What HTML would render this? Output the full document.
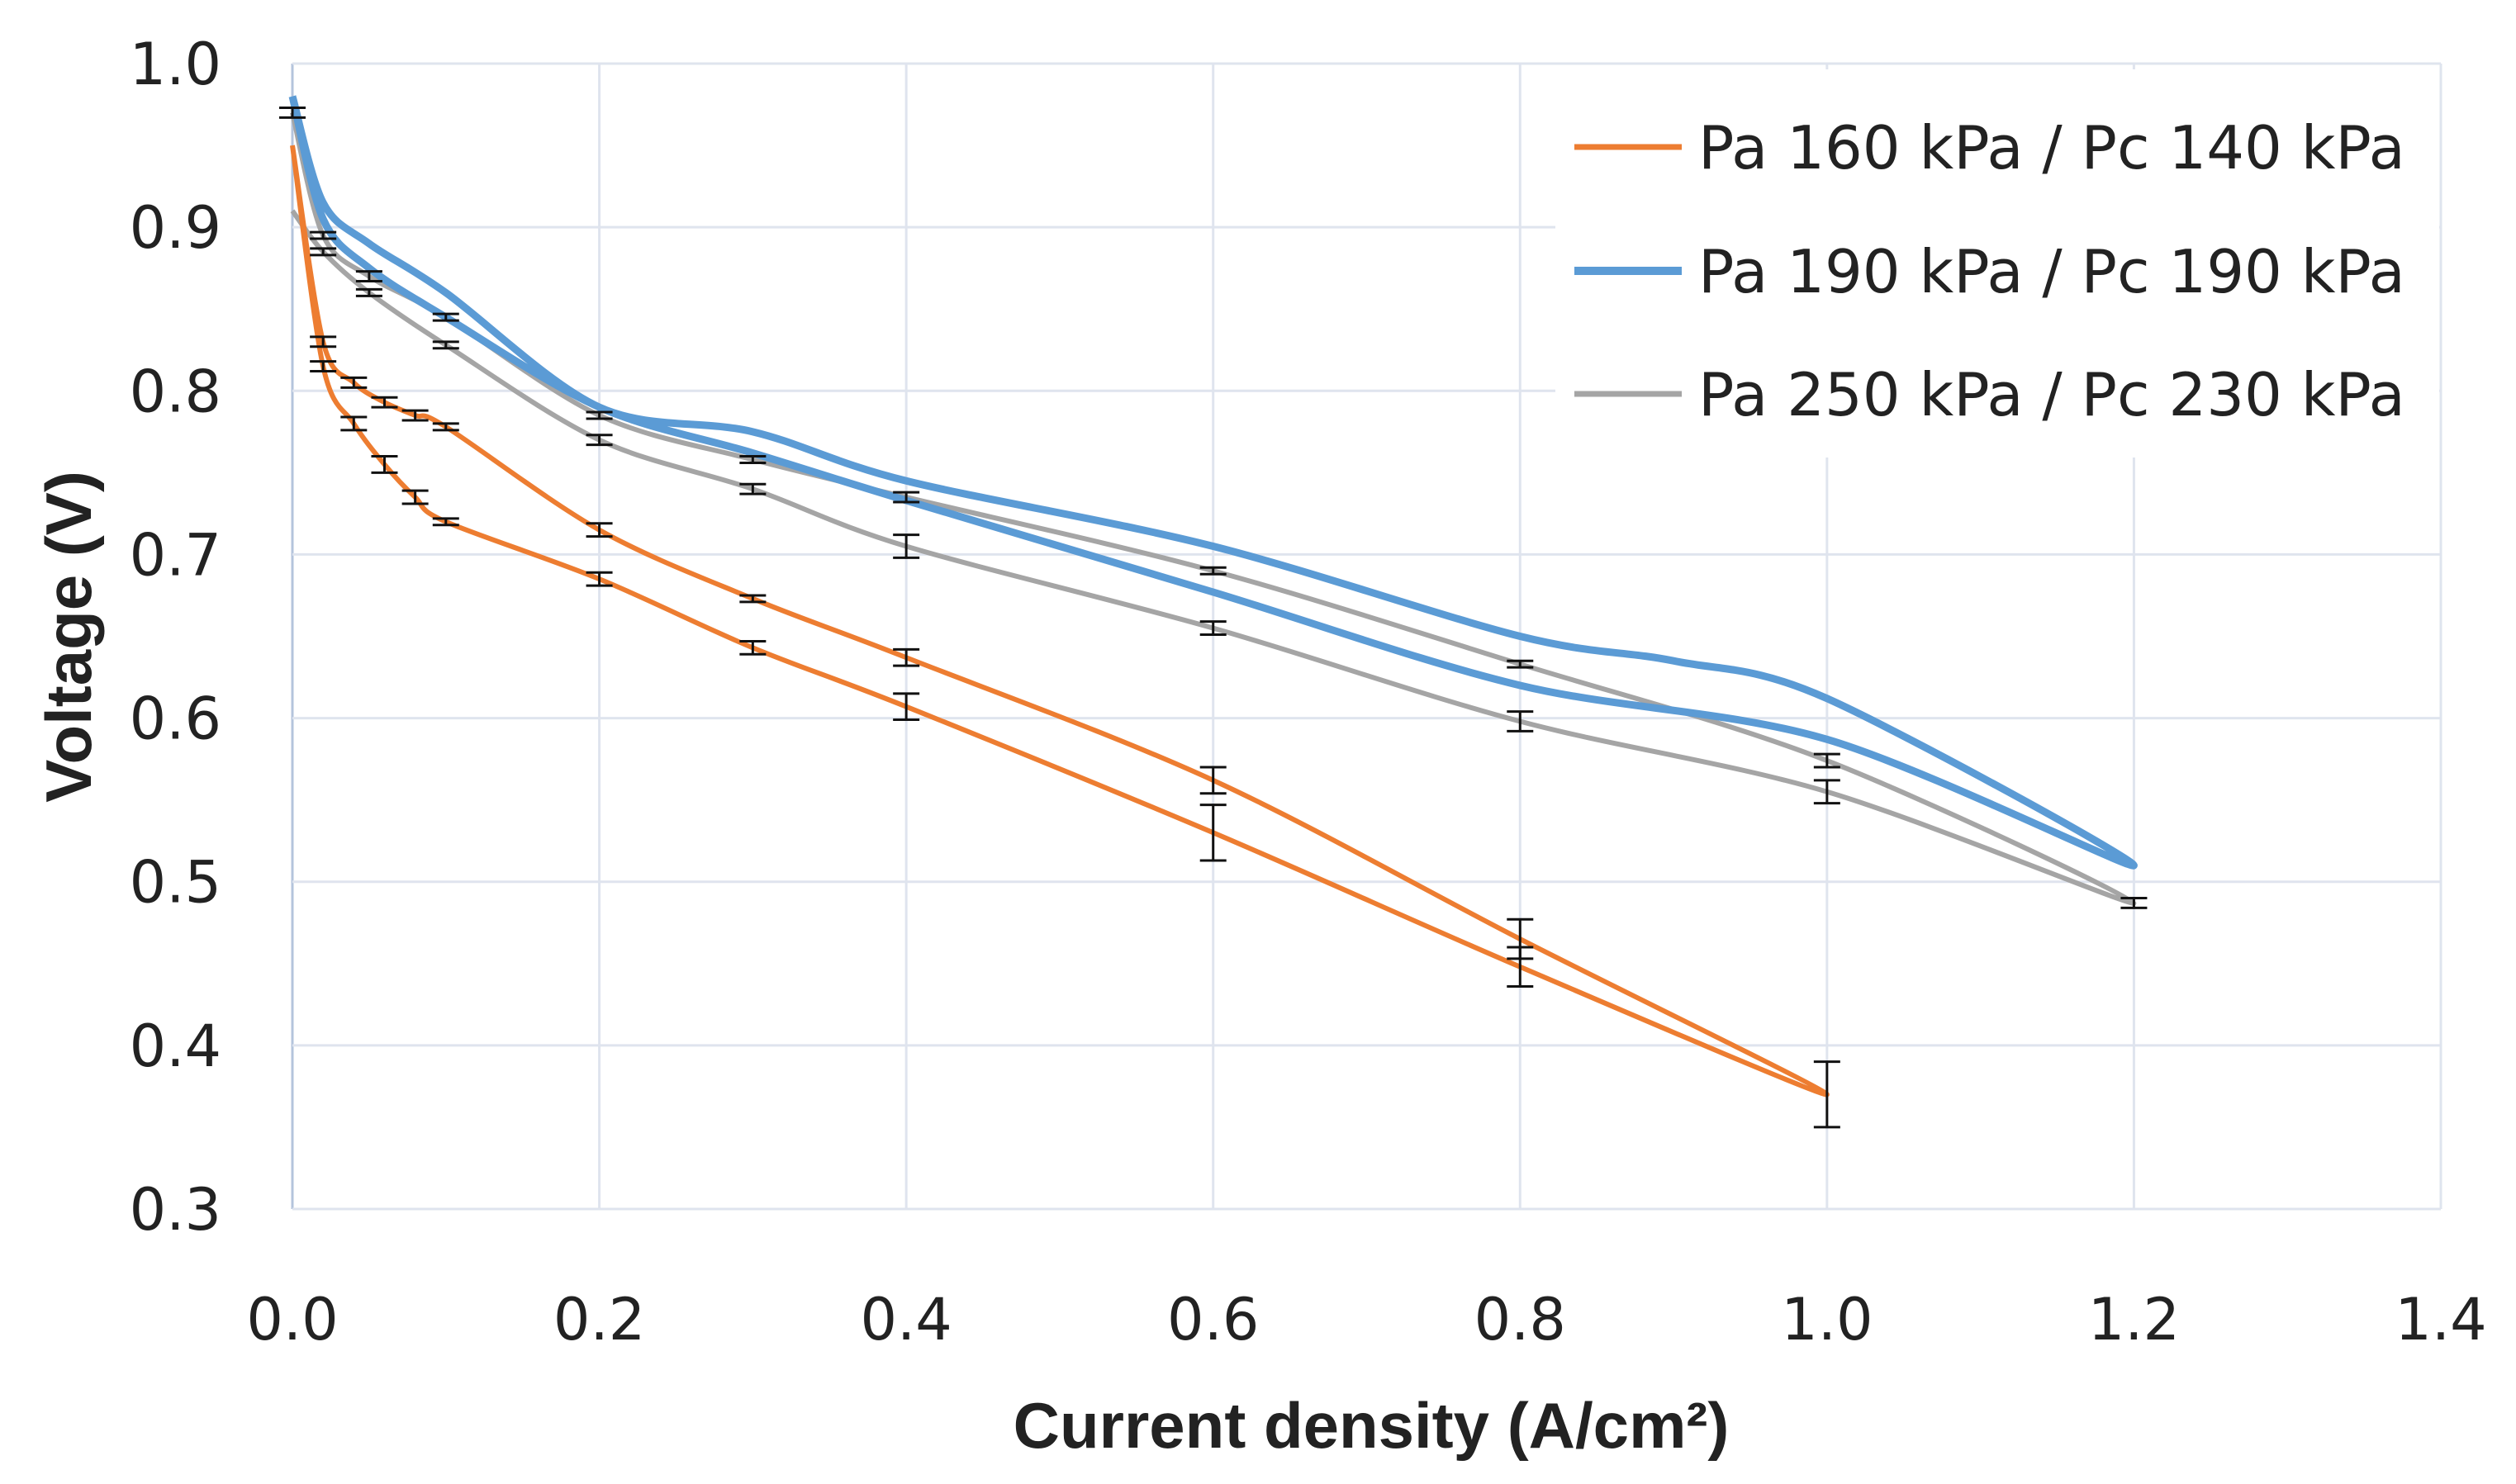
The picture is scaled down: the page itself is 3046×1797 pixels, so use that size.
<!DOCTYPE html>
<html><head><meta charset="utf-8"><style>
body{margin:0;background:#fff;}
svg{display:block;}
text{font-family:"DejaVu Sans","Liberation Sans",sans-serif;}
</style></head><body>
<svg id="chart" width="3046" height="1797" viewBox="0 0 3046 1797" xmlns="http://www.w3.org/2000/svg">
<g id="grid"></g>
<g id="ticks"></g>
<g id="series"></g>
<rect x="1883" y="84" width="1070" height="470" fill="#fff"/>
<g>
 <g><line x1="1906" y1="178" x2="2036" y2="178" stroke="#ED7D31" stroke-width="7"/><text x="2056" y="204" font-size="72" fill="#222">Pa 160 kPa / Pc 140 kPa</text></g>
 <g><line x1="1906" y1="328" x2="2036" y2="328" stroke="#5B9BD5" stroke-width="10"/><text x="2056" y="354" font-size="72" fill="#222">Pa 190 kPa / Pc 190 kPa</text></g>
 <g><line x1="1906" y1="477" x2="2036" y2="477" stroke="#A5A5A5" stroke-width="7"/><text x="2056" y="503" font-size="72" fill="#222">Pa 250 kPa / Pc 230 kPa</text></g>
</g>
<text x="1660" y="1753" font-size="78" font-weight="bold" text-anchor="middle" fill="#222" style="font-family:'Liberation Sans',sans-serif">Current density (A/cm²)</text>
<text transform="translate(110,771) rotate(-90)" font-size="78" font-weight="bold" text-anchor="middle" fill="#222" style="font-family:'Liberation Sans',sans-serif">Voltage (V)</text>
</svg>
<script>
const xTicks=[0,0.2,0.4,0.6,0.8,1.0,1.2,1.4];
const yTicks=[0.3,0.4,0.5,0.6,0.7,0.8,0.9,1.0];
const orangeX=[0,0.02,0.04,0.06,0.08,0.1,0.2,0.3,0.4,0.6,0.8,1.0,0.8,0.6,0.4,0.3,0.2,0.1,0.08,0.06,0.04,0.02,0];
const orangeY=[0.95,0.83,0.805,0.793,0.785,0.778,0.715,0.673,0.637,0.562,0.465,0.37,0.448,0.53,0.607,0.643,0.685,0.72,0.735,0.755,0.78,0.815,0.95];
const orangeErr=[0,0.003,0.003,0.003,0.003,0.002,0.004,0.002,0.005,0.008,0.012,0.02,0.012,0.017,0.008,0.004,0.004,0.002,0.004,0.005,0.004,0.003,0];
const blueX=[0,0.02,0.05,0.1,0.2,0.3,0.4,0.6,0.8,0.9,1.0,1.2,1.0,0.8,0.6,0.4,0.3,0.2,0.1,0.05,0.02,0];
const blueY=[0.98,0.915,0.89,0.86,0.79,0.775,0.745,0.705,0.65,0.635,0.612,0.51,0.587,0.62,0.677,0.733,0.762,0.79,0.845,0.875,0.905,0.98];
const grayX=[0,0.02,0.05,0.1,0.2,0.3,0.4,0.6,0.8,1.0,1.2,1.0,0.8,0.6,0.4,0.3,0.2,0.1,0.05,0.02,0];
const grayY=[0.97,0.895,0.87,0.845,0.785,0.758,0.735,0.69,0.633,0.574,0.487,0.555,0.598,0.655,0.705,0.74,0.77,0.828,0.86,0.885,0.91];
const grayErr=[0.003,0.002,0.003,0.002,0.002,0.002,0.003,0.002,0.002,0.004,0.003,0.007,0.006,0.004,0.007,0.003,0.003,0.002,0.002,0.002,0];
const NS='http://www.w3.org/2000/svg';
const X0=354,X1=2955,Y0=1464,Y1=77;
function sx(v){return X0+(v-0)/1.4*(X1-X0);}
function sy(v){return Y0-(v-0.3)/0.7*(Y0-Y1);}
function mk(t,a,p){const e=document.createElementNS(NS,t);for(const k in a)e.setAttribute(k,a[k]);p.appendChild(e);return e;}
const grid=document.getElementById('grid'),ticks=document.getElementById('ticks'),ser=document.getElementById('series');
xTicks.forEach(v=>{const l=mk('line',{x1:sx(v),x2:sx(v),y1:Y1,y2:Y0,stroke:v===0?'#b4c4dc':'#dfe4ee','stroke-width':3},grid);


const t=mk('text',{x:sx(v),y:1622,'font-size':70,'text-anchor':'middle',fill:'#222'},ticks);t.textContent=v.toFixed(1);

});
yTicks.forEach(v=>{const l=mk('line',{x1:X0,x2:X1,y1:sy(v),y2:sy(v),stroke:'#dfe4ee','stroke-width':3},grid);


const t=mk('text',{x:268,y:sy(v)+25,'font-size':70,'text-anchor':'end',fill:'#222'},ticks);t.textContent=v.toFixed(1);

});
function smooth(xs,ys){const p=xs.map((x,i)=>[sx(x),sy(ys[i])]);let d='M'+p[0][0]+' '+p[0][1];
for(let i=0;i<p.length-1;i++){const a=p[i-1]||p[i],b=p[i],c=p[i+1],e=p[i+2]||c;const k=0.16;
d+=' C'+(b[0]+(c[0]-a[0])*k)+' '+(b[1]+(c[1]-a[1])*k)+' '+(c[0]-(e[0]-b[0])*k)+' '+(c[1]-(e[1]-b[1])*k)+' '+c[0]+' '+c[1];}return d;}
function errs(xs,ys,es,name){xs.forEach((x,i)=>{const e=es[i];if(!e)return;const g=mk('g',{stroke:'#111','stroke-width':3},ser);


mk('line',{x1:sx(x),x2:sx(x),y1:sy(ys[i]+e),y2:sy(ys[i]-e)},g);
mk('line',{x1:sx(x)-16,x2:sx(x)+16,y1:sy(ys[i]+e),y2:sy(ys[i]+e)},g);
mk('line',{x1:sx(x)-16,x2:sx(x)+16,y1:sy(ys[i]-e),y2:sy(ys[i]-e)},g);});}
const pg=mk('path',{d:smooth(grayX,grayY),fill:'none',stroke:'#A5A5A5','stroke-width':6,'stroke-linejoin':'round'},ser);


const pb=mk('path',{d:smooth(blueX,blueY),fill:'none',stroke:'#5B9BD5','stroke-width':9,'stroke-linejoin':'round'},ser);


const po=mk('path',{d:smooth(orangeX,orangeY),fill:'none',stroke:'#ED7D31','stroke-width':6,'stroke-linejoin':'round'},ser);


errs(grayX,grayY,grayErr,'gray-error-bar');
errs(orangeX,orangeY,orangeErr,'orange-error-bar');
</script>
</body></html>
